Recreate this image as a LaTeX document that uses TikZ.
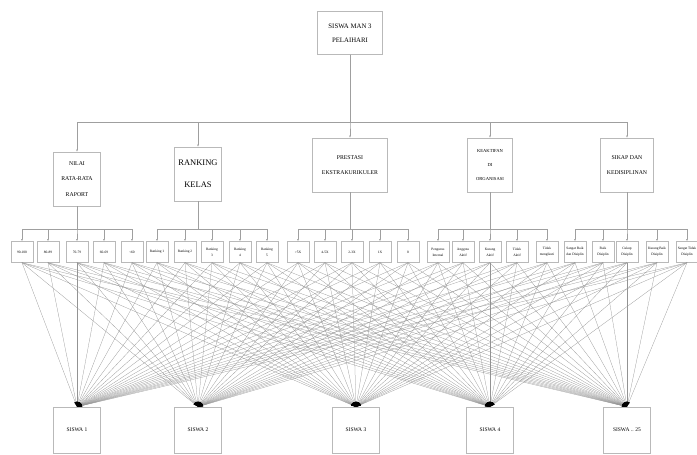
\documentclass[tikz,border=0pt]{standalone}
\usepackage{fontspec}
\setmainfont{Liberation Serif}
\usetikzlibrary{
	positioning,  %定位
	arrows.meta   %箭头
}
\tikzset{
	every picture/.style={
		>={Latex[length=2.2pt,width=1.8pt]}
	},
	kotak/.style={draw=gray!55,line width=0.4pt,align=center,inner sep=1pt},
	utama/.style={kotak,minimum width=65pt,minimum height=43pt,font=\fontsize{6.8}{14}\selectfont},
	kriteria/.style={kotak,minimum width=#1,minimum height=54pt,font=\fontsize{5.8}{15.5}\selectfont},
	sub/.style={kotak,minimum width=22pt,minimum height=21pt,font=\fontsize{3.5}{6}\selectfont},
	alt/.style={kotak,minimum width=47pt,minimum height=46pt,font=\fontsize{5.5}{6}\selectfont},
	garis/.style={draw=gray!75,line width=0.4pt},
	kipas/.style={draw=gray!85,line width=0.25pt,-{Latex[length=5pt,width=2pt,black]}}
}
\begin{document}
\begin{tikzpicture}[x=1pt,y=-1pt]
\useasboundingbox (0,0) rectangle (697,455);
% tujuan
\node[utama] (siswa) at (350,33) {SISWA MAN 3\\PELAIHARI};
% kriteria
\node[kriteria=47pt] (k1) at (77,179) {NILAI\\RATA-RATA\\RAPORT};
\node[kriteria=47pt,font=\fontsize{8.5}{22}\selectfont] (k2) at (198,174) {RANKING\\KELAS};
\node[kriteria=75pt] (k3) at (350,165) {PRESTASI\\EKSTRAKURIKULER};
\node[kriteria=45pt,font=\fontsize{4.6}{14}\selectfont] (k4) at (490,165) {KEAKTIFAN\\DI\\ORGANISASI};
\node[kriteria=53pt] (k5) at (627,165) {SIKAP DAN\\KEDISIPLINAN};
\coordinate (h0) at (0,122);
\coordinate (h1) at (0,229);
\foreach \k in {1,...,5}
	\draw[garis,->] (siswa.south) |- (h0 -| k\k.north) -- (k\k.north);
% subkriteria
\foreach \x/\t [count=\i] in {22/90-100,48/80-89,77/70-79,104/60-69,132/<60}
	\node[sub] (s1-\i) at (\x,252) {\t};
\foreach \x/\t [count=\i] in {157/Ranking 1,185/Ranking 2,212/Ranking\\3,240/Ranking\\4,267/Ranking\\5}
	\node[sub] (s2-\i) at (\x,252) {\t};
\foreach \x/\t [count=\i] in {298/>5X,325/4-5X,352/2-3X,380/1X,408/0}
	\node[sub] (s3-\i) at (\x,252) {\t};
\foreach \x/\t [count=\i] in {438/Pengurus\\Internal,463/Anggota\\Aktif,490/Kurang\\Aktif,517/Tidak\\Aktif,547/Tidak\\mengikuti}
	\node[sub] (s4-\i) at (\x,252) {\t};
\foreach \x/\t [count=\i] in {575/Sangat Baik\\dan Disiplin,603/Baik\\Disiplin,627/Cukup\\Disiplin,657/Kurang Baik\\Disiplin,687/Sangat Tidak\\Disiplin}
	\node[sub] (s5-\i) at (\x,252) {\t};
\foreach \k in {1,...,5}
	\foreach \i in {1,...,5}
		\draw[garis,->] (k\k.south) |- (h1 -| s\k-\i.north) -- (s\k-\i.north);
% alternatif
\foreach \x/\t [count=\i] in {77/SISWA 1,198/SISWA 2,356/SISWA 3,490/SISWA 4,627/SISWA .. 25}
	\node[alt] (a\i) at (\x,430) {\t};
\foreach \k in {1,...,5}
	\foreach \i in {1,...,5}
		\foreach \j in {1,...,5}
			\draw[kipas] (s\k-\i.south) -- (a\j.north);
\end{tikzpicture}
\end{document}
